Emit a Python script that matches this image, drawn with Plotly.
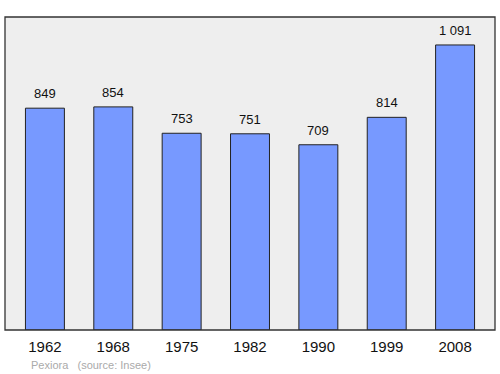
import plotly.graph_objects as go

years = ["1962", "1968", "1975", "1982", "1990", "1999", "2008"]
population = [849, 854, 753, 751, 709, 814, 1091]
labels = ["849", "854", "753", "751", "709", "814", "1 091"]

fig = go.Figure()
fig.add_trace(go.Bar(
    x=years, y=population, width=0.57,
    marker=dict(color="#7799ff", line=dict(color="#222222", width=1)),
    hoverinfo="skip",
))
for i, (v, t) in enumerate(zip(population, labels)):
    fig.add_annotation(x=i, y=v, text=t, showarrow=False, yanchor="bottom", yshift=5,
                       font=dict(family="Liberation Sans, Arial", size=13, color="#111111"))

fig.add_shape(type="rect", xref="paper", yref="paper", x0=0, y0=0, x1=1, y1=1,
              line=dict(color="#333333", width=1.3), layer="above")

fig.add_annotation(xref="paper", yref="paper", x=0, y=0, xshift=24, yshift=-35,
                   xanchor="left", yanchor="middle", showarrow=False,
                   text="Pexiora &nbsp;&nbsp;(source: Insee)",
                   font=dict(family="Liberation Sans, Arial", size=11, color="#aaaaaa"))

fig.update_layout(
    width=500, height=374,
    margin=dict(l=5, r=5, t=17, b=44),
    paper_bgcolor="white", plot_bgcolor="#eeeeee",
    showlegend=False,
    xaxis=dict(type="category", range=[-0.584, 6.584], showgrid=False, zeroline=False, ticks="",
               tickfont=dict(family="Liberation Sans, Arial", size=15, color="#111111"),
               ticklabelstandoff=6),
    yaxis=dict(range=[0, 1198], showgrid=False, zeroline=False, showticklabels=False, ticks=""),
)
fig.write_html("out.html")
